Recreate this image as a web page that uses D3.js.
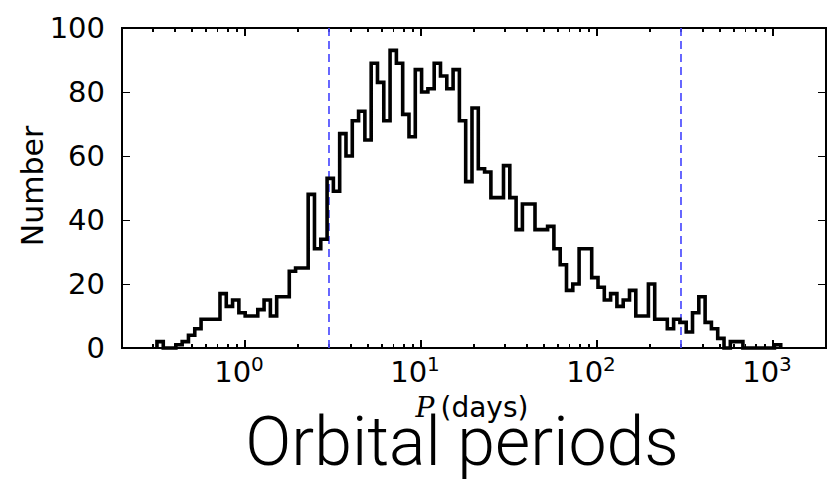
<!DOCTYPE html>
<meta charset="utf-8">
<style>
body {
  margin: 0;
  background-color: #ffffff;
}
.axis path,
.axis line {
  fill: none;
  stroke: #000;
  stroke-width: 1.3px;
  shape-rendering: crispEdges;
}
.axis text {
  font-family: "DejaVu Sans", sans-serif;
  font-size: 29px;
  fill: #000;
}
</style>
<body>
<script src="https://d3js.org/d3.v7.min.js"></script>
<script>
  // log spaced bins between these two edges (days)
  var binEdgeFirst = 0.316,
      binEdgeLast = 1106;
  // number of systems in each bin
  var counts = [2, 0, 0, 1, 2, 4, 6, 9, 9, 9,
                17, 13, 15, 11, 10, 10, 12, 15, 10, 16,
                16, 24, 25, 25, 48, 31, 34, 53, 49, 67,
                60, 71, 74, 65, 89, 83, 71, 93, 89, 73,
                66, 87, 80, 81, 89, 85, 81, 87, 71, 52,
                75, 56, 55, 47, 47, 57, 47, 37, 45, 45,
                37, 37, 38, 31, 26, 18, 20, 31, 31, 22,
                19, 15, 17, 13, 15, 18, 10, 10, 20, 9,
                9, 6, 9, 8, 5, 11, 16, 8, 6, 3,
                0, 2, 2, 0, 0, 0, 0, 0, 1];
  var yTicks = [0, 20, 40, 60, 80, 100];
  var xDecades = [0, 1, 2, 3];
  var cutLines = [3, 300];   // dashed limits (days)

  var chartConfig = {
    width: 828,
    height: 483,
    margin: {top: 28, right: 2, bottom: 135, left: 122}
  };

  var margin = chartConfig.margin,
      width = chartConfig.width - margin.left - margin.right,
      height = chartConfig.height - margin.top - margin.bottom;

  var svg = d3.select("body").append("svg")
      .attr("width", chartConfig.width)
      .attr("height", chartConfig.height);

  var g = svg.append("g")
      .attr("transform", "translate(" + margin.left + "," + margin.top + ")");

  var x = d3.scaleLog().domain([0.2, 2000]).range([0, width]);
  var y = d3.scaleLinear().domain([0, 100]).range([height, 0]);

  // bin edges
  var n = counts.length;
  var edges = d3.range(n + 1).map(function(i) {
    return binEdgeFirst * Math.pow(binEdgeLast / binEdgeFirst, i / n);
  });

  // minor ticks 2..9 x 10^k
  var minor = [];
  [-1, 0, 1, 2, 3].forEach(function(k) {
    d3.range(2, 10).forEach(function(m) {
      var v = m * Math.pow(10, k);
      if (v > 0.2 && v < 2000) minor.push(v);
    });
  });
  var major = xDecades.map(function(k) { return Math.pow(10, k); });

  // y axes (ticks point inwards)
  g.append("g").attr("class", "axis")
      .call(d3.axisLeft(y).tickValues(yTicks).tickSize(-8).tickPadding(17).tickSizeOuter(0))
      .call(function(s) { s.select(".domain").remove(); });
  g.append("g").attr("class", "axis")
      .attr("transform", "translate(" + width + ",0)")
      .call(d3.axisRight(y).tickValues(yTicks).tickSize(-8).tickFormat("").tickSizeOuter(0))
      .call(function(s) { s.select(".domain").remove(); });

  // x axes, bottom and top
  function xTicks(sel, bottom) {
    var dir = bottom ? -1 : 1;
    sel.selectAll(".minor").data(minor).enter().append("line")
        .attr("x1", function(d) { return x(d); })
        .attr("x2", function(d) { return x(d); })
        .attr("y1", 0).attr("y2", dir * 4);
    sel.selectAll(".major").data(major).enter().append("line")
        .attr("x1", function(d) { return x(d); })
        .attr("x2", function(d) { return x(d); })
        .attr("y1", 0).attr("y2", dir * 8);
  }
  var xb = g.append("g").attr("class", "axis").attr("transform", "translate(0," + height + ")");
  xb.call(xTicks, true);
  var xt = g.append("g").attr("class", "axis");
  xt.call(xTicks, false);

  // tick labels 10^k
  var lab = xb.selectAll(".lab").data(xDecades).enter().append("text")
      .attr("x", function(d) { return x(Math.pow(10, d)) - 6; })
      .attr("y", 34)
      .attr("text-anchor", "middle");
  lab.append("tspan").text("10");
  lab.append("tspan").attr("dy", -11).attr("font-size", "20px").text(function(d) { return d; });

  // frame
  g.append("rect").attr("class", "frame")
      .attr("width", width).attr("height", height)
      .attr("fill", "none").attr("stroke", "#000").attr("stroke-width", 1.4)
      .attr("shape-rendering", "crispEdges");

  // dashed limits
  g.selectAll(".cut").data(cutLines).enter().append("line")
      .attr("x1", function(d) { return x(d); })
      .attr("x2", function(d) { return x(d); })
      .attr("y1", 0).attr("y2", height)
      .attr("stroke", "#4d4dff")
      .attr("stroke-width", 1.7)
      .attr("stroke-dasharray", "8,5");

  // step histogram
  var pts = [[edges[0], 0]];
  counts.forEach(function(c, i) {
    pts.push([edges[i], c]);
    pts.push([edges[i + 1], c]);
  });
  pts.push([edges[n], 0]);
  g.append("path")
      .attr("d", d3.line()
          .x(function(d) { return x(d[0]); })
          .y(function(d) { return y(d[1]); })(pts))
      .attr("fill", "none")
      .attr("stroke", "#000")
      .attr("stroke-width", 3.6)
      .attr("stroke-linejoin", "miter");

  // axis labels
  svg.append("text")
      .attr("transform", "translate(43," + (margin.top + height / 2 - 2) + ") rotate(-90)")
      .attr("text-anchor", "middle")
      .style("font-family", "DejaVu Sans")
      .style("font-size", "30px")
      .text("Number");

  var xl = svg.append("text")
      .attr("x", margin.left + width / 2 - 2)
      .attr("y", 417)
      .attr("text-anchor", "middle")
      .style("font-family", "DejaVu Sans")
      .style("font-size", "28px");
  xl.append("tspan").style("font-family", "DejaVu Serif").style("font-style", "italic").text("P");
  xl.append("tspan").attr("dx", 6).text("(days)");

  // slide title
  svg.append("text")
      .attr("x", 462)
      .attr("y", 465)
      .attr("text-anchor", "middle")
      .style("font-family", "Roboto, Lato, sans-serif")
      .style("font-weight", 300)
      .style("font-size", "68px")
      .text("Orbital periods");
</script>
</body>
